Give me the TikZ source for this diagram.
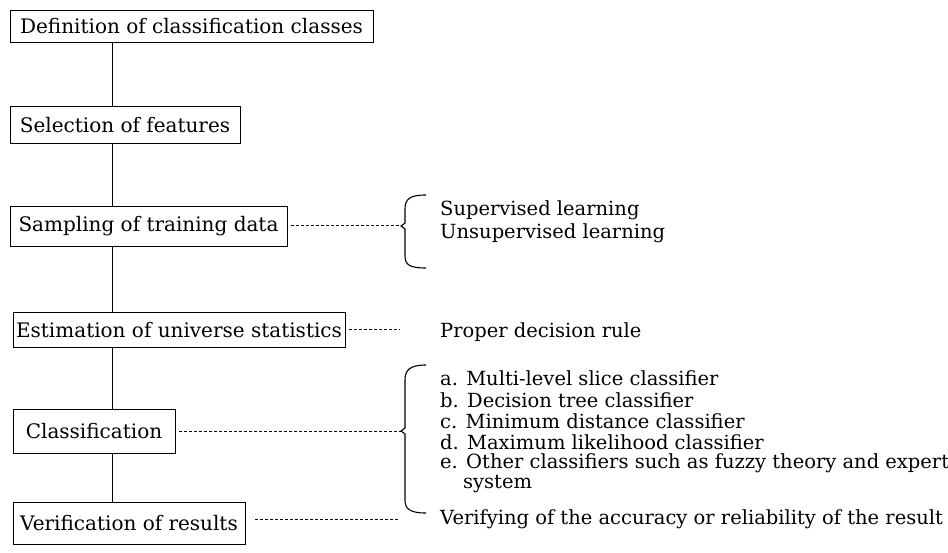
\documentclass[tikz,border=0pt]{standalone}
\usepackage{fontspec}
\setmainfont{DejaVu Serif}
\begin{document}
\begin{tikzpicture}[x=1pt,y=-1pt,
  stagebox/.style={draw, line width=0.9pt, inner sep=1pt, font=\fontsize{20}{24}\selectfont, anchor=center},
  spineline/.style={line width=0.9pt},
  dotline/.style={line width=1pt, dash pattern=on 3pt off 2pt},
  bracepath/.style={line width=1.1pt},
  lbl/.style={anchor=west, inner sep=0pt, font=\fontsize{19.5}{24}\selectfont}]
\useasboundingbox (0,0) rectangle (948,553);
\coordinate (spine) at (112,0);
% stage boxes
\node[stagebox, minimum width=363pt, minimum height=32pt] (def) at (191.5,26) {Definition of classification classes};
\node[stagebox, minimum width=230pt, minimum height=37pt] (sel) at (125,125) {Selection of features};
\node[stagebox, minimum width=277pt, minimum height=40pt] (samp) at (148.5,226) {Sampling of training data};
\node[stagebox, minimum width=332pt, minimum height=35pt] (est) at (179,330) {Estimation of universe statistics};
\node[stagebox, minimum width=162pt, minimum height=44pt] (cls) at (94,431) {Classification};
\node[stagebox, minimum width=232pt, minimum height=42pt] (ver) at (129,523) {Verification of results};
% spine
\draw[spineline] (def.south -| spine) -- (sel.north -| spine);
\draw[spineline] (sel.south -| spine) -- (samp.north -| spine);
\draw[spineline] (samp.south -| spine) -- (est.north -| spine);
\draw[spineline] (est.south -| spine) -- (cls.north -| spine);
\draw[spineline] (cls.south -| spine) -- (ver.north -| spine);
% brace tips and end points
\coordinate (b1) at (401,226);
\coordinate (pr) at (400,330);
\coordinate (b2) at (401,431);
\coordinate (vr) at (400,519);
\draw[dotline] (samp.east) ++(4,0) -- (b1);
\draw[dotline] (est.east) ++(4,0) -- (pr);
\draw[dotline] (cls.east) ++(4,0) -- (b2);
\draw[dotline] (ver.east) ++(10,-4) -- (vr);
% braces
\draw[bracepath] (426,195) .. controls (410,195) and (405,199) .. (405,209) -- (405,223) -- (401,226) -- (405,229) -- (405,256) .. controls (405,265) and (410,268) .. (426,268);
\draw[bracepath] (426,365) .. controls (410,365) and (405,370) .. (405,380) -- (405,428) -- (401,431) -- (405,434) -- (405,500) .. controls (405,509) and (410,513) .. (426,513);
% labels
\node[lbl] (sup) at (440,210) {Supervised learning};
\node[lbl] (uns) at (440,233) {Unsupervised learning};
\node[lbl] (pdr) at (440,332) {Proper decision rule};
\node[lbl] (ca) at (440,378) {a. Multi-level slice classifier};
\node[lbl] (cb) at (440,400) {b. Decision tree classifier};
\node[lbl] (cc) at (440,421) {c. Minimum distance classifier};
\node[lbl] (cd) at (440,442) {d. Maximum likelihood classifier};
\node[lbl] (ce) at (440,463) {e. Other classifiers such as fuzzy theory and expert};
\node[lbl] (cf) at (463,484) {system};
\node[lbl] (vtxt) at (440,519) {Verifying of the accuracy or reliability of the result};
\end{tikzpicture}
\end{document}
